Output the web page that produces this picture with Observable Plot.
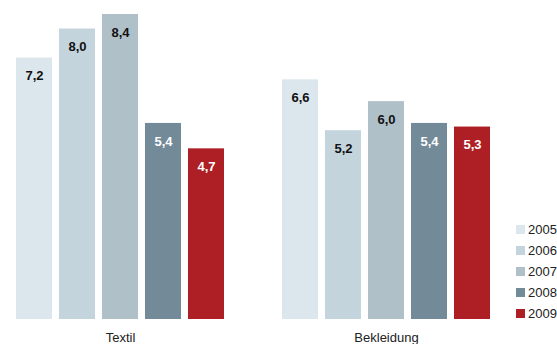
<!DOCTYPE html>
<html><head><meta charset="utf-8">
<script src="https://cdn.jsdelivr.net/npm/d3@7"></script>
<script src="https://cdn.jsdelivr.net/npm/@observablehq/plot@0.6"></script>
<style>
body{margin:0;background:#fff;}
#wrap{position:relative;width:557px;height:344px;font-family:"Liberation Sans",Arial,sans-serif;}
#legend{position:absolute;left:516px;top:219px;}
#legend .lg-swatch{height:21px !important;padding:0 !important;margin:0 !important;display:flex;align-items:center;}
#legend .lg-swatch svg{margin-right:3px !important;}
#legend > div, #legend .lg-swatches{margin:0 !important;font-family:"Liberation Sans",Arial,sans-serif;font-size:13px;color:#222;}
</style></head><body><div id="wrap"><div id="legend"></div></div>
<script>
const categories = ["Textil", "Bekleidung"];
const years = ["2005", "2006", "2007", "2008", "2009"];
const textil = [7.2, 8.0, 8.4, 5.4, 4.7];
const bekleidung = [6.6, 5.2, 6.0, 5.4, 5.3];
const colors = ["#dce6ed", "#c4d4dd", "#afc0c9", "#738a98", "#ad1f24"];
const darkLabelYears = ["2005", "2006", "2007"];

const data = [];
categories.forEach((c, i) => {
  const vals = i === 0 ? textil : bekleidung;
  years.forEach((y, j) => data.push({category: c, year: y, value: vals[j]}));
});
const fmt = v => v.toFixed(1).replace(".", ",");

const plot = Plot.plot({
  width: 557, height: 344,
  marginTop: 14, marginBottom: 25, marginLeft: 13, marginRight: 64,
  style: {fontFamily: "Liberation Sans, Arial, sans-serif", fontSize: "13px", background: "#fff", color: "#222"},
  fx: {domain: categories, paddingInner: 0.202, paddingOuter: 0, label: null, axis: "bottom", tickSize: 0, tickPadding: 13},
  x: {domain: years, paddingInner: 0.16, paddingOuter: 0, axis: null},
  y: {domain: [0, 8.4], axis: null},
  color: {domain: years, range: colors},
  marks: [
    Plot.barY(data, {fx: "category", x: "year", y: "value", fill: "year"}),
    Plot.text(data.filter(d => darkLabelYears.includes(d.year)), {fx: "category", x: "year", y: "value", text: d => fmt(d.value), dy: 18, fill: "#111", fontWeight: "bold", fontSize: 13}),
    Plot.text(data.filter(d => !darkLabelYears.includes(d.year)), {fx: "category", x: "year", y: "value", text: d => fmt(d.value), dy: 18, fill: "#fff", fontWeight: "bold", fontSize: 13})
  ]
});
document.getElementById("wrap").insertBefore(plot, document.getElementById("legend"));

const leg = Plot.legend({
  color: {domain: years, range: colors, type: "ordinal"},
  legend: "swatches", columns: 1, swatchSize: 9, className: "lg",
  style: {fontFamily: "Liberation Sans, Arial, sans-serif", fontSize: "13px", color: "#222"}
});
document.getElementById("legend").appendChild(leg);
</script>
</body></html>
